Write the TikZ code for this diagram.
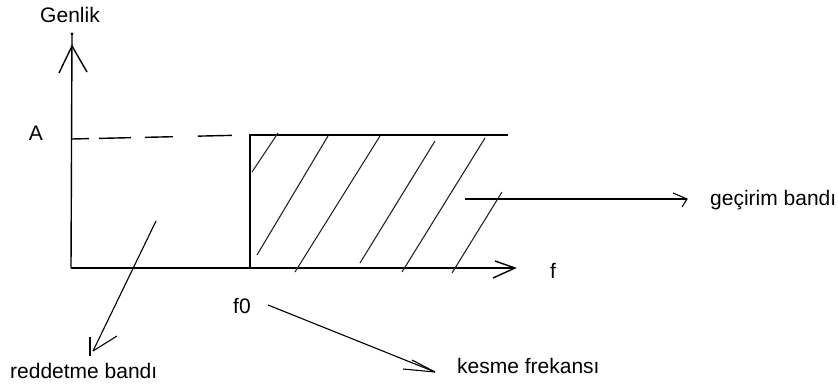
\documentclass[tikz,border=0pt]{standalone}
\usepackage{fontspec}
\setmainfont{Liberation Sans}
\begin{document}
\begin{tikzpicture}[x=1pt,y=-1pt,
  lbl/.style={inner sep=0pt,anchor=base west,font=\fontsize{21}{25}\selectfont},
  axisline/.style={line width=1.4pt,black},
  hatch/.style={line width=1.1pt,black!85},
  pointer/.style={line width=1.1pt,black}]
\useasboundingbox (0,0) rectangle (838,388);
% labels
\node[lbl,anchor=center] (genlik) at (70,14.5) {Genlik};
\node[lbl,anchor=center] (A) at (36,133) {A};
\node[lbl] (f) at (550,278) {f};
\node[lbl] (f0) at (233,313) {f0};
\node[lbl] (red) at (10,378) {reddetme band\i};
\node[lbl] (kes) at (457,373) {kesme frekans\i};
\node[lbl] (gec) at (710,205) {ge\c{c}irim band\i};
% coordinates
\coordinate (O) at (71,268);
\coordinate (ytop) at (72,34);
\coordinate (ytip) at (72,46);
\coordinate (xend) at (513,268);
\coordinate (xtip) at (515,268);
\coordinate (rb) at (250,268);
\coordinate (rt) at (250,135);
\coordinate (rr) at (508,135);
% axes
\draw[axisline] (O) -- (ytop);
\fill (ytop) circle (1.6);
\draw[axisline] (59,73) -- (ytip) -- (87,72);
\draw[axisline] (O) -- (xend);
\draw[axisline] (495,261) -- (xtip) -- (493,278);
% dashed level A
\draw[axisline,dash pattern=on 17pt off 10pt on 32pt off 14pt on 28pt off 25pt on 34pt] (72,139) -- (248,135);
% pass band rectangle
\draw[axisline] (rb) -- (rt) -- (rr);
% hatching
\draw[hatch] (252,172) -- (278,133);
\draw[hatch] (257,255) -- (328,136);
\draw[hatch] (295,272) -- (380,136);
\draw[hatch] (360,263) -- (435,141);
\draw[hatch] (402,272) -- (485,138);
\draw[hatch] (452,273) -- (502,192);
% pointer: gecirim bandi
\coordinate (g0) at (465,199);
\coordinate (g1) at (687,199);
\draw[pointer] (g0) -- (g1);
\draw[pointer] (673,193) -- (g1) -- (682,207);
% pointer: reddetme bandi
\coordinate (r0) at (156,221);
\coordinate (r1) at (93,351);
\draw[pointer] (r0) -- (r1);
\draw[pointer] (117,336) -- (r1);
\draw[pointer] (90,337) -- (90,356);
% pointer: kesme frekansi
\coordinate (k0) at (268,305);
\coordinate (k1) at (435,372);
\draw[pointer] (k0) -- (k1);
\draw[pointer] (403,369) -- (k1);
\draw[pointer] (412,360) -- (k1);
\end{tikzpicture}
\end{document}
